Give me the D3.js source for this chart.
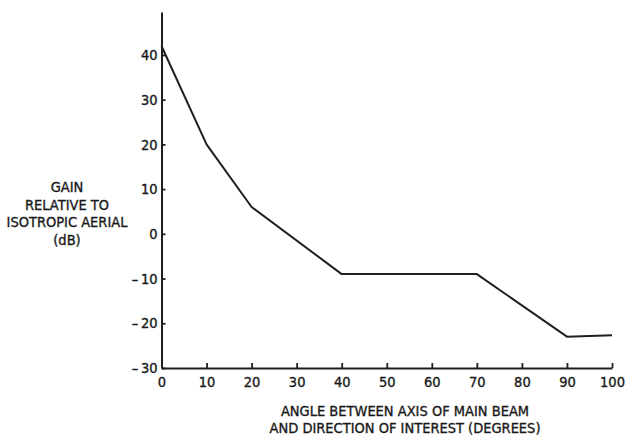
<!DOCTYPE html>
<html>
<head>
<meta charset="utf-8">
<script src="https://cdn.jsdelivr.net/npm/d3@7"></script>
<style>
  html, body { margin: 0; padding: 0; background: #fff; }
  svg text { font-family: "Liberation Sans Narrow", "DejaVu Sans Condensed", "Roboto Condensed", sans-serif; fill: #1a1a1a; stroke: #1a1a1a; stroke-width: 0.35px; }
</style>
</head>
<body>
<svg id="chart" width="631" height="436"></svg>
<script>
// Data
const angles = [0, 10, 20, 40, 70, 90, 100];
const gains = [42, 20, 6, -9, -9, -23, -22.7];
const xTicks = [0, 10, 20, 30, 40, 50, 60, 70, 80, 90, 100];
const yTicks = [-30, -20, -10, 0, 10, 20, 30, 40];
const yTitleLines = ["GAIN", "RELATIVE TO", "ISOTROPIC AERIAL", "(dB)"];
const xTitleLines = ["ANGLE BETWEEN AXIS OF MAIN BEAM", "AND DIRECTION OF INTEREST (DEGREES)"];

const svg = d3.select("#chart");
const ink = "#1f1f1f";

const x = d3.scaleLinear().domain([0, 100]).range([161.5, 612]);
const y = d3.scaleLinear().domain([-30, 49.6]).range([368, 12]);

const fmt = d => d < 0 ? "\u2013\u2009" + Math.abs(d) : String(d);

const gx = svg.append("g")
  .attr("transform", `translate(0,${y(-30)})`)
  .call(d3.axisBottom(x).tickValues(xTicks).tickSizeInner(-5).tickSizeOuter(0).tickPadding(9).tickFormat(d => d));
gx.select(".domain").attr("stroke", ink).attr("stroke-width", 2);
gx.selectAll(".tick line").attr("stroke", ink).attr("stroke-width", 1.8);
gx.selectAll(".tick text").attr("font-size", 14.5).attr("fill", ink);

const gy = svg.append("g")
  .attr("transform", `translate(${x(0)},0)`)
  .call(d3.axisLeft(y).tickValues(yTicks).tickSizeInner(-4).tickSizeOuter(0).tickPadding(4).tickFormat(fmt));
gy.select(".domain").attr("stroke", ink).attr("stroke-width", 2);
gy.selectAll(".tick line").attr("stroke", ink).attr("stroke-width", 1.8);
gy.selectAll(".tick text").attr("font-size", 14.5).attr("fill", ink);

const pts = angles.map((a, i) => [a, gains[i]]);
svg.append("path")
  .datum(pts)
  .attr("fill", "none")
  .attr("stroke", ink)
  .attr("stroke-width", 2)
  .attr("stroke-linejoin", "round")
  .attr("d", d3.line().x(d => x(d[0])).y(d => y(d[1])));

svg.append("g").selectAll("text")
  .data(yTitleLines).join("text")
  .attr("x", 67)
  .attr("y", (d, i) => 192 + i * 17.5)
  .attr("text-anchor", "middle")
  .attr("font-size", 14.5)
  .text(d => d);

svg.append("g").selectAll("text")
  .data(xTitleLines).join("text")
  .attr("x", 405)
  .attr("y", (d, i) => 416 + i * 17)
  .attr("text-anchor", "middle")
  .attr("font-size", 14.5)
  .text(d => d);
</script>
</body>
</html>
